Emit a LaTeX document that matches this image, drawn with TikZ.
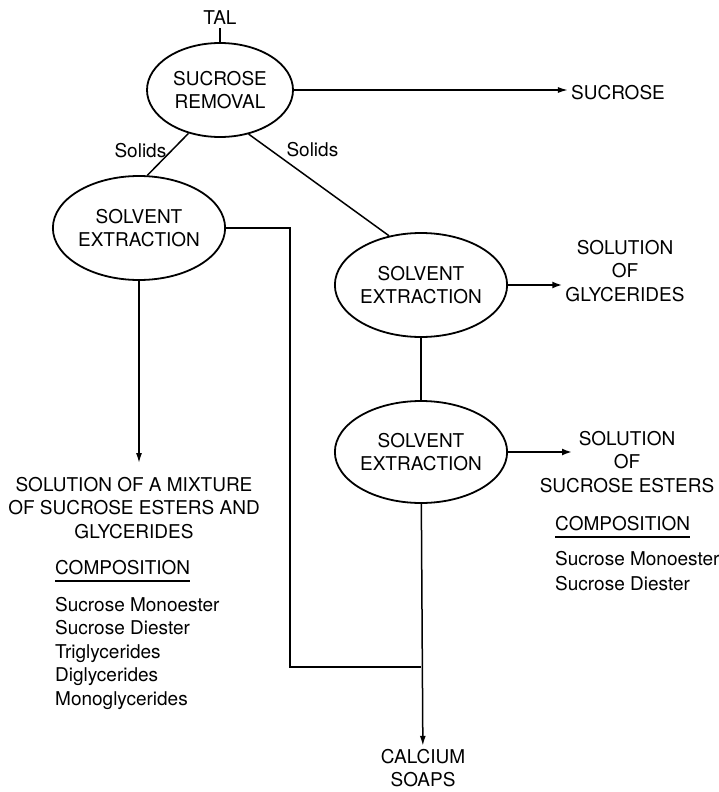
\documentclass[tikz,border=0pt]{standalone}
\usepackage{fontspec}
\setmainfont{TeX Gyre Heros}
\usetikzlibrary{shapes.geometric,arrows.meta}

\tikzset{
  stage/.style={ellipse, draw, line width=1.8pt, inner sep=0pt, align=center,
    minimum width=158pt, minimum height=104pt},
  lbl/.style={align=center, inner sep=3pt},
  flow/.style={line width=1.5pt},
  prod/.style={line width=1.5pt, -{Latex[length=10pt,width=6pt]}},
  bold/.style={line width=2.8pt, -{Latex[length=10pt,width=7pt]}},
}

\begin{document}
\begin{tikzpicture}[x=1pt,y=-1pt,font=\fontsize{19}{23.5}\selectfont]
\useasboundingbox (0,0) rectangle (719,792);

% process stages
\node[stage,minimum width=146pt,minimum height=94pt] (removal) at (220,90) {SUCROSE\\REMOVAL};
\node[stage,minimum width=154pt] (extA) at (139,228) {SOLVENT\\EXTRACTION};
\node[stage] (extB) at (421,285) {SOLVENT\\EXTRACTION};
\node[stage,minimum height=102pt] (extC) at (421,452) {SOLVENT\\EXTRACTION};

% feed and products
\node[lbl] (tal) at (220,18) {TAL};
\node[lbl] (sucrose) at (618,93) {SUCROSE};
\node[lbl] (glyc) at (625,271) {SOLUTION\\OF\\GLYCERIDES};
\node[lbl] (esters) at (627,462) {SOLUTION\\OF\\SUCROSE ESTERS};
\node[lbl] (mix) at (134,508) {SOLUTION OF A MIXTURE\\OF SUCROSE ESTERS AND\\GLYCERIDES};
\node[lbl] (soaps) at (423,768) {CALCIUM\\SOAPS};

\coordinate (drop) at (290,667);
\coordinate (join) at (421,667);

\draw[flow] (tal) -- (removal);
\draw[prod] (removal.east) -- (removal.east -| sucrose.west);
\draw[flow] (removal.234) -- node[pos=0.4,left=3pt,inner sep=2pt] {Solids} (extA.81);
\draw[flow] (removal.303) -- node[pos=0.25,above right,inner sep=2pt] {Solids} (extB.123);
\draw[prod,shorten >=11pt] (extA.south) -- (extA.south |- mix.north);
\draw[flow] (extA.east) -| (drop) -- (join);
\draw[bold] (extB.east) -- (extB.east -| glyc.west);
\draw[flow] (extB) -- (extC);
\draw[bold] (extC.east) -- ++(64,0);
\draw[prod] (extC) -- (soaps);

% compositions
\node[anchor=base west,inner sep=0pt] (compL) at (55,574) {COMPOSITION};
\draw[line width=1.2pt] ([yshift=-7pt]compL.base west) -- ([yshift=-7pt]compL.base east);
\foreach \t [count=\i] in {Sucrose Monoester,Sucrose Diester,Triglycerides,Diglycerides,Monoglycerides}
  \node[anchor=base west,inner sep=0pt] (itemL\i) at (55,587.5+23.5*\i) {\t};

\node[anchor=base west,inner sep=0pt] (compR) at (555,530) {COMPOSITION};
\draw[line width=1.2pt] ([yshift=-7pt]compR.base west) -- ([yshift=-7pt]compR.base east);
\foreach \t [count=\i] in {Sucrose Monoester,Sucrose Diester}
  \node[anchor=base west,inner sep=0pt] (itemR\i) at (555,540+25*\i) {\t};
\end{tikzpicture}
\end{document}
